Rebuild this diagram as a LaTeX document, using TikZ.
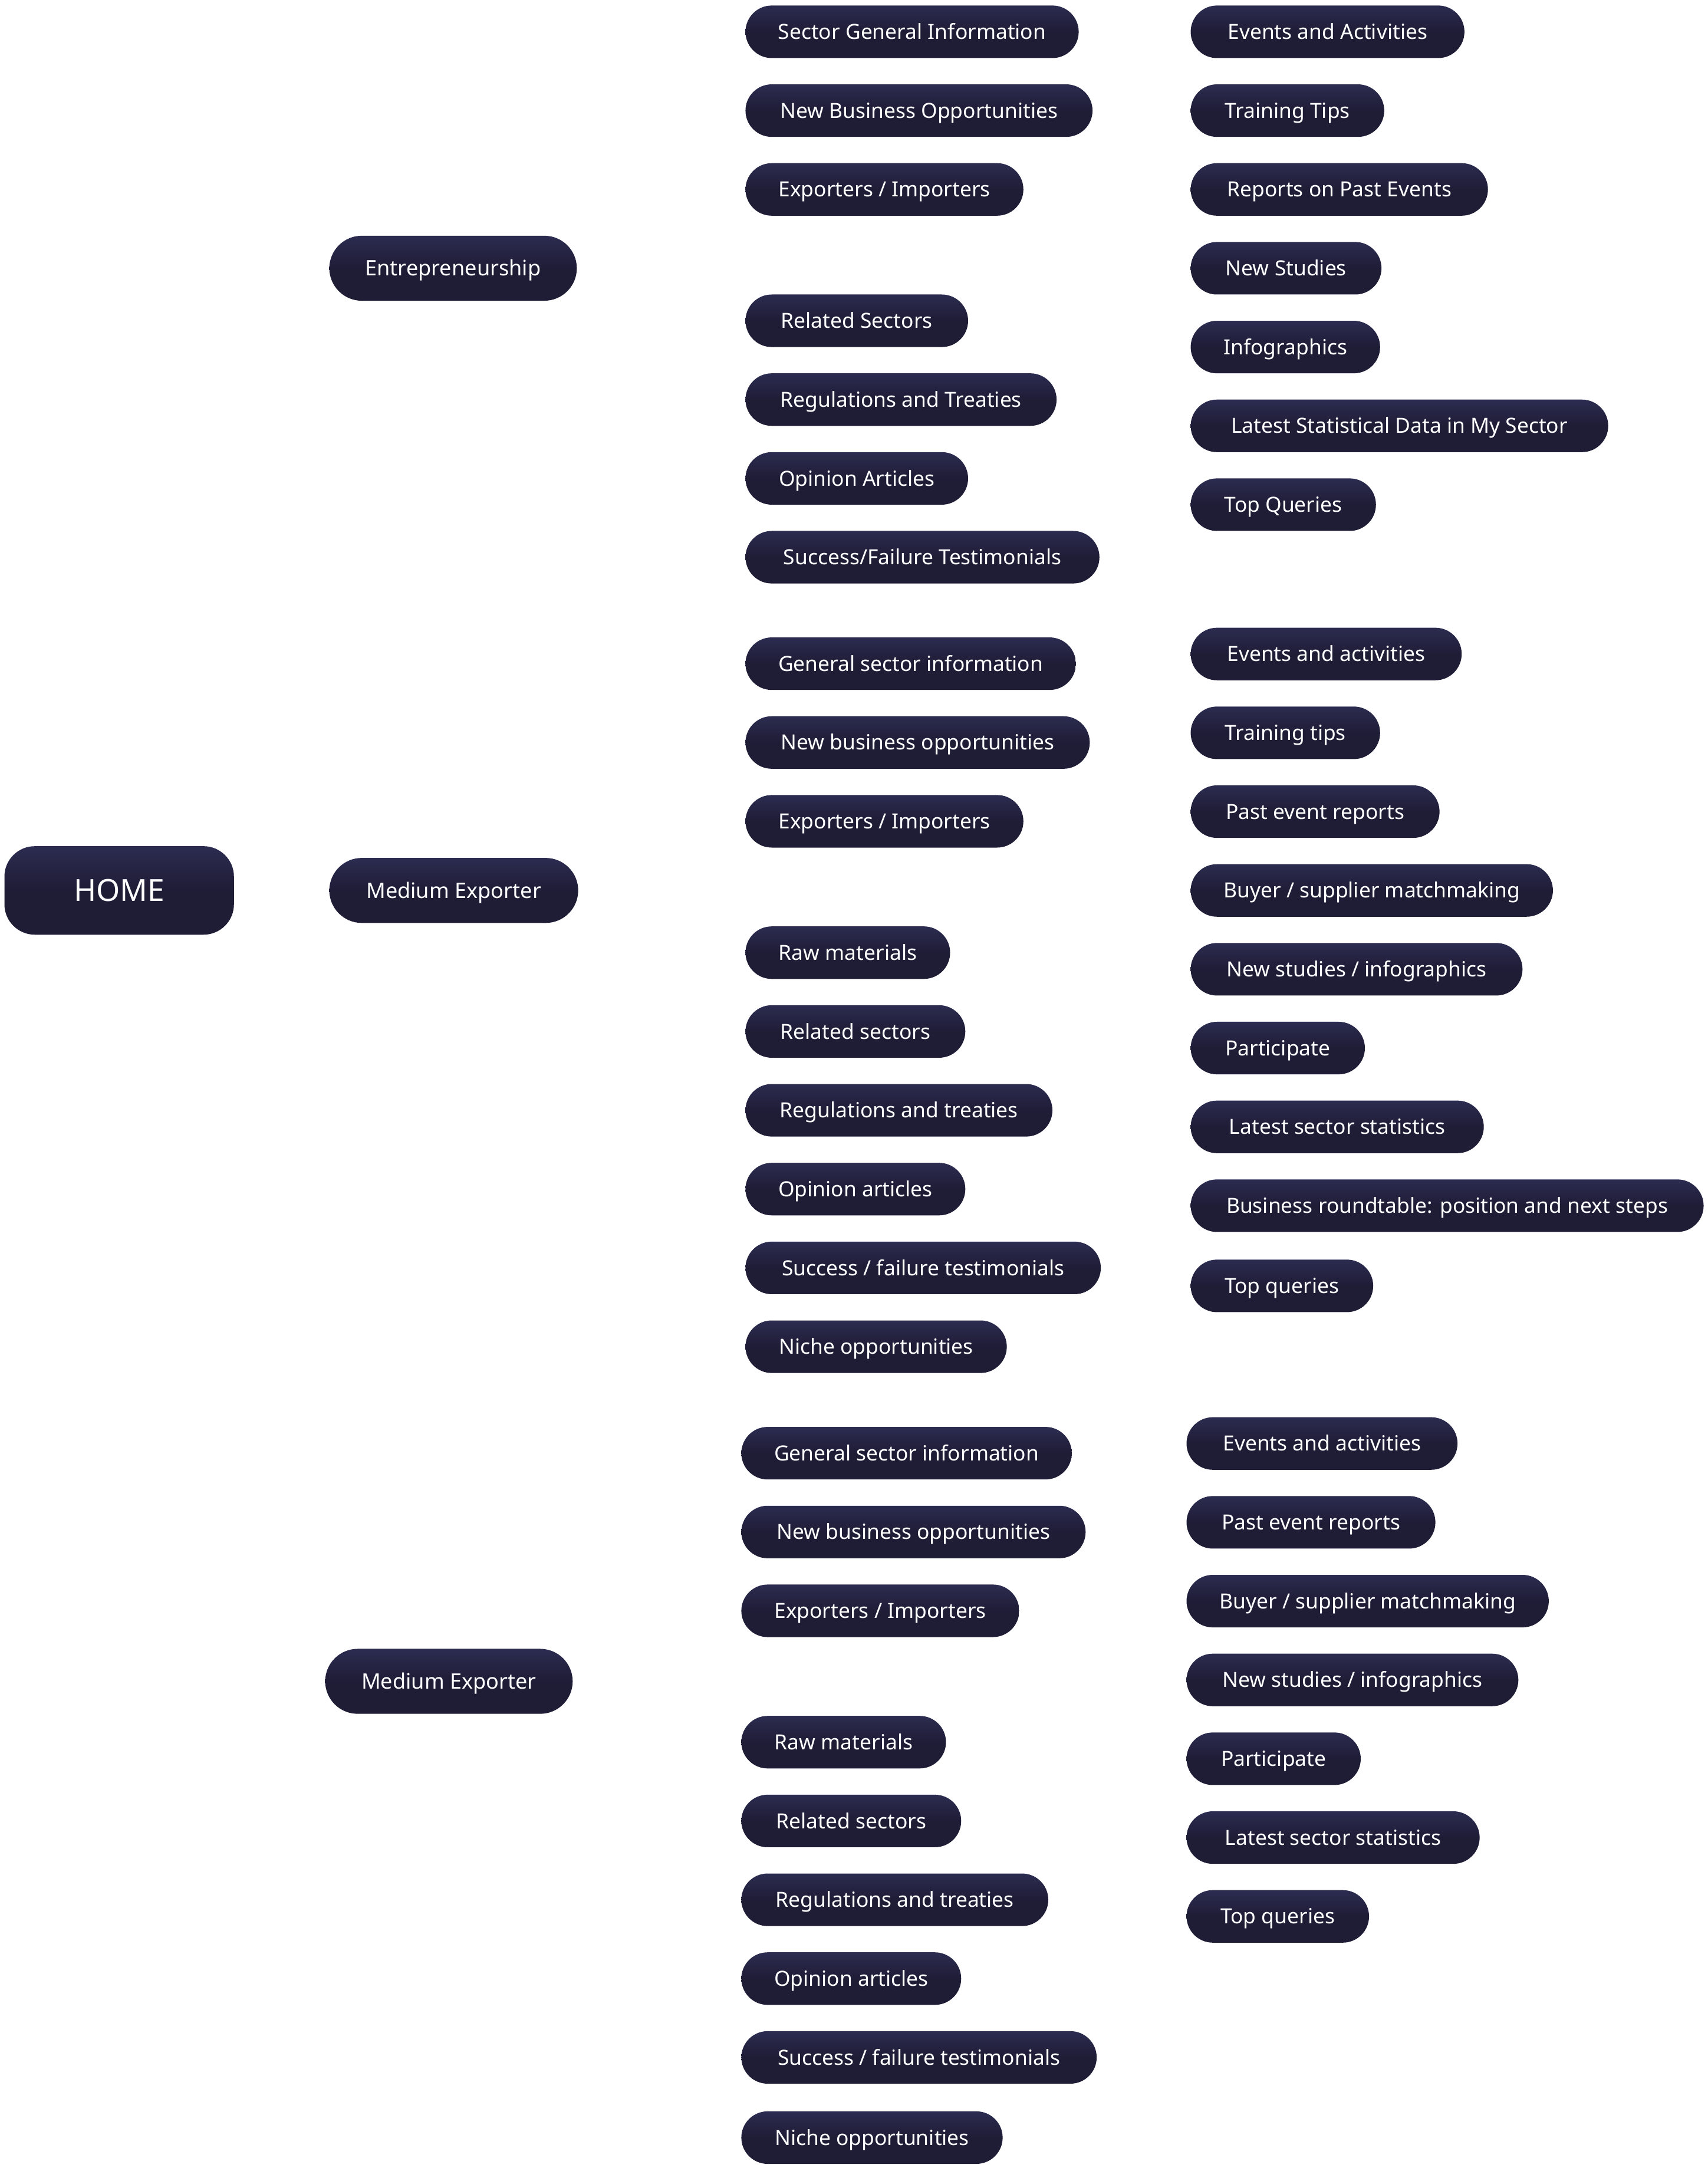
\documentclass[tikz,border=0pt]{standalone}
\usepackage{fontspec}
\setmainfont{Noto Sans}
\usepackage{xcolor}

\definecolor{pillTop}{HTML}{2B2C50}
\definecolor{pillBase}{HTML}{1F1C36}

\tikzset{
  pill/.style={anchor=west, inner sep=0pt, text=white,
    minimum height=38pt, rounded corners=19pt,
    text height=10.8pt, text depth=0pt,
    top color=pillTop, bottom color=pillBase, middle color=pillBase,
    font=\fontsize{15.1}{18}\selectfont},
  branch/.style={pill, minimum height=47pt, rounded corners=23.5pt,
    text height=11pt, font=\fontsize{15.4}{18}\selectfont},
  root/.style={pill, minimum height=64pt, rounded corners=22pt,
    text height=15.6pt, font=\fontsize{22}{26}\selectfont}
}

\begin{document}
\begin{tikzpicture}[x=1pt,y=-1pt]
      % Page frame
      \useasboundingbox (0,0) rectangle (1235,1568);

      % Root
      \node[root, minimum width=166pt] (home) at (3,644) {HOME};

      % Profiles
      \node[branch, minimum width=179pt] (entre) at (238,194) {Entrepreneurship};
      \node[branch, minimum width=180pt] (medOne) at (238,644) {Medium Exporter};
      \node[branch, minimum width=179pt] (medTwo) at (235,1216) {Medium Exporter};

      % Entrepreneurship: content
      \node[pill, minimum width=241pt] (eSector) at (539,23) {Sector General Information};
      \node[pill, minimum width=251pt] (eBusiness) at (539,80) {New Business Opportunities};
      \node[pill, minimum width=201pt] (eTrade) at (539,137) {Exporters / Importers};
      \node[pill, minimum width=161pt] (eRelated) at (539,232) {Related Sectors};
      \node[pill, minimum width=225pt] (eRules) at (539,289) {Regulations and Treaties};
      \node[pill, minimum width=161pt] (eOpinion) at (539,346) {Opinion Articles};
      \node[pill, minimum width=256pt] (eStories) at (539,403) {Success/Failure Testimonials};

      % Entrepreneurship: services
      \node[pill, minimum width=198pt] (eEvents) at (861,23) {Events and Activities};
      \node[pill, minimum width=140pt] (eTraining) at (861,80) {Training Tips};
      \node[pill, minimum width=215pt] (eReports) at (861,137) {Reports on Past Events};
      \node[pill, minimum width=138pt] (eStudies) at (861,194) {New Studies};
      \node[pill, minimum width=137pt] (eInfo) at (861,251) {Infographics};
      \node[pill, minimum width=302pt] (eStats) at (861,308) {Latest Statistical Data in My Sector};
      \node[pill, minimum width=134pt] (eQueries) at (861,365) {Top Queries};

      % Medium exporter (1): content
      \node[pill, minimum width=239pt] (mSector) at (539,480) {General sector information};
      \node[pill, minimum width=249pt] (mBusiness) at (539,537) {New business opportunities};
      \node[pill, minimum width=201pt] (mTrade) at (539,594) {Exporters / Importers};
      \node[pill, minimum width=148pt] (mRaw) at (539,689) {Raw materials};
      \node[pill, minimum width=159pt] (mRelated) at (539,746) {Related sectors};
      \node[pill, minimum width=222pt] (mRules) at (539,803) {Regulations and treaties};
      \node[pill, minimum width=159pt] (mOpinion) at (539,860) {Opinion articles};
      \node[pill, minimum width=257pt] (mStories) at (539,917) {Success / failure testimonials};
      \node[pill, minimum width=189pt] (mNiche) at (539,974) {Niche opportunities};

      % Medium exporter (1): services
      \node[pill, minimum width=196pt] (mEvents) at (861,473) {Events and activities};
      \node[pill, minimum width=137pt] (mTraining) at (861,530) {Training tips};
      \node[pill, minimum width=180pt] (mReports) at (861,587) {Past event reports};
      \node[pill, minimum width=262pt] (mMatch) at (861,644) {Buyer / supplier matchmaking};
      \node[pill, minimum width=240pt] (mStudies) at (861,701) {New studies / infographics};
      \node[pill, minimum width=126pt] (mJoin) at (861,758) {Participate};
      \node[pill, minimum width=212pt] (mStats) at (861,815) {Latest sector statistics};
      \node[pill, minimum width=371pt] (mTable) at (861,872) {Business roundtable: position and next steps};
      \node[pill, minimum width=132pt] (mQueries) at (861,930) {Top queries};

      % Medium exporter (2): content
      \node[pill, minimum width=239pt] (nSector) at (536,1051) {General sector information};
      \node[pill, minimum width=249pt] (nBusiness) at (536,1108) {New business opportunities};
      \node[pill, minimum width=201pt] (nTrade) at (536,1165) {Exporters / Importers};
      \node[pill, minimum width=148pt] (nRaw) at (536,1260) {Raw materials};
      \node[pill, minimum width=159pt] (nRelated) at (536,1317) {Related sectors};
      \node[pill, minimum width=222pt] (nRules) at (536,1374) {Regulations and treaties};
      \node[pill, minimum width=159pt] (nOpinion) at (536,1431) {Opinion articles};
      \node[pill, minimum width=257pt] (nStories) at (536,1488) {Success / failure testimonials};
      \node[pill, minimum width=189pt] (nNiche) at (536,1546) {Niche opportunities};

      % Medium exporter (2): services
      \node[pill, minimum width=196pt] (nEvents) at (858,1044) {Events and activities};
      \node[pill, minimum width=180pt] (nReports) at (858,1101) {Past event reports};
      \node[pill, minimum width=262pt] (nMatch) at (858,1158) {Buyer / supplier matchmaking};
      \node[pill, minimum width=240pt] (nStudies) at (858,1215) {New studies / infographics};
      \node[pill, minimum width=126pt] (nJoin) at (858,1272) {Participate};
      \node[pill, minimum width=212pt] (nStats) at (858,1329) {Latest sector statistics};
      \node[pill, minimum width=132pt] (nQueries) at (858,1386) {Top queries};
\end{tikzpicture}
\end{document}
